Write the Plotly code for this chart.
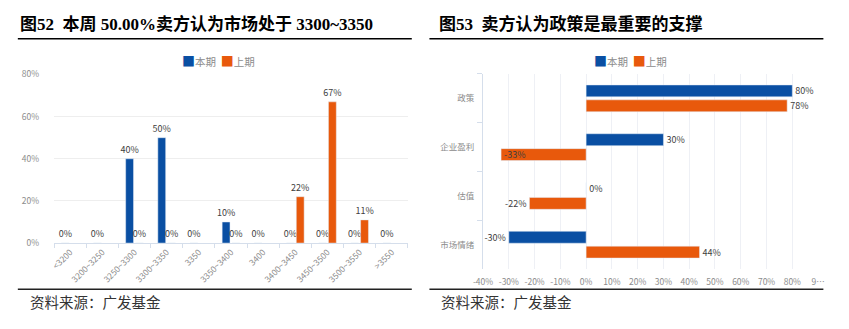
import plotly.graph_objects as go

# ---- left chart data ----
ranges = ["<3200", "3200~3250", "3250~3300", "3300~3350", "3350", "3350~3400",
          "3400", "3400~3450", "3450~3500", "3500~3550", ">3550"]
cur_range = [0, 0, 40, 50, 0, 10, 0, 0, 0, 0, 0]
prev_range = [None, None, 0, 0, None, 0, None, 22, 67, 11, None]

# ---- right chart data ----
factors = ["政策", "企业盈利", "估值", "市场情绪"]
cur_factor = [80, 30, 0, -30]
prev_factor = [78, -33, -22, 44]

x_ticks = [-40, -30, -20, -10, 0, 10, 20, 30, 40, 50, 60, 70, 80, 90]
x_ticktext = ["-40%", "-30%", "-20%", "-10%", "0%", "10%", "20%", "30%", "40%",
              "50%", "60%", "70%", "80%", "9…"]

series_names = ["本期", "上期"]

BLUE = "#0a4fa3"
ORANGE = "#e8590c"
LBL = dict(family="Noto Sans CJK SC, Liberation Sans", size=9, color="#404040")
TICK = dict(family="Noto Sans CJK SC, Liberation Sans", size=8.5, color="#8c8c8c")

W, H = 849, 329
def px(x):
    return x / W
def py(y):
    return 1 - y / H

def pct(v):
    return "" if v is None else f"{v}%"

fig = go.Figure()

fig.add_trace(go.Bar(x=ranges, y=cur_range, name=series_names[0], marker_color=BLUE,
                     text=[pct(v) for v in cur_range], textposition="outside",
                     textfont=LBL, cliponaxis=False, xaxis="x", yaxis="y"))
fig.add_trace(go.Bar(x=ranges, y=prev_range, name=series_names[1], marker_color=ORANGE,
                     text=[pct(v) for v in prev_range], textposition="outside",
                     textfont=LBL, cliponaxis=False, xaxis="x", yaxis="y"))

fig.add_trace(go.Bar(y=factors, x=cur_factor, name=series_names[0], orientation="h",
                     marker_color=BLUE, text=[pct(v) for v in cur_factor],
                     textposition="outside", textfont=LBL, cliponaxis=False,
                     xaxis="x2", yaxis="y2"))
fig.add_trace(go.Bar(y=factors, x=prev_factor, name=series_names[1], orientation="h",
                     marker_color=ORANGE, text=[pct(v) for v in prev_factor],
                     textposition=["outside", "inside", "outside", "outside"],
                     insidetextanchor="end",
                     insidetextfont=LBL, outsidetextfont=LBL, cliponaxis=False,
                     xaxis="x2", yaxis="y2"))

AXLINE = "#d5deeb"
fig.update_layout(
    width=W, height=H, margin=dict(l=0, r=0, t=0, b=0),
    paper_bgcolor="white", plot_bgcolor="white",
    barmode="group", bargap=0.39, bargroupgap=0.2,
    showlegend=False,
    uniformtext=dict(mode="show", minsize=9),
    xaxis=dict(domain=[px(45), px(406)], type="category", categoryorder="array",
               categoryarray=ranges, tickangle=-45, tickfont=TICK,
               showline=True, linecolor=AXLINE, linewidth=1,
               ticks="outside", tickson="boundaries", ticklen=4, tickcolor=AXLINE,
               showgrid=False, anchor="y", fixedrange=True),
    yaxis=dict(domain=[py(245), py(70)], range=[0, 80], tickvals=[0, 20, 40, 60, 80],
               ticktext=["0%", "20%", "40%", "60%", "80%"], tickfont=TICK,
               showgrid=True, gridcolor="#eeeeee", gridwidth=1, zeroline=False,
               showline=False, anchor="x", ticklabelstandoff=14),
    xaxis2=dict(domain=[px(482.7), px(824.6)], range=[-40, 90], tickvals=x_ticks,
                ticktext=x_ticktext, tickfont=TICK, showgrid=True,
                gridcolor="#eef0f5", zeroline=False, showline=False, anchor="y2",
                ticklabelstandoff=6),
    yaxis2=dict(domain=[py(272), py(69.5)], type="category", categoryorder="array",
                categoryarray=factors, autorange="reversed", tickfont=TICK,
                showline=True, linecolor=AXLINE, ticks="outside",
                tickson="boundaries", ticklen=5, tickcolor=AXLINE,
                showgrid=False, anchor="x2", ticklabelstandoff=6),
)

# legends (colour key) as text
LEGFONT = dict(family="Noto Sans CJK SC", size=10.5, color="#8c8c8c")
legend_text = (f"<span style='color:{BLUE};font-size:13px'>■</span>{series_names[0]}"
               f"  <span style='color:{ORANGE};font-size:13px'>■</span>{series_names[1]}")
for xc in (213, 633):
    fig.add_annotation(x=px(xc), y=py(56), xref="paper", yref="paper", xanchor="center",
                       yanchor="middle", showarrow=False, font=LEGFONT, text=legend_text)

TITLE = dict(family="Liberation Serif, Noto Sans CJK SC", size=17, color="#000000")
fig.add_annotation(x=px(8), y=py(18), xref="paper", yref="paper", xanchor="left",
                   yanchor="middle", showarrow=False, font=TITLE,
                   text="<b>图52  本周 50.00%卖方认为市场处于 3300~3350</b>")
fig.add_annotation(x=px(436), y=py(18), xref="paper", yref="paper", xanchor="left",
                   yanchor="middle", showarrow=False, font=TITLE,
                   text="<b>图53  卖方认为政策是最重要的支撑</b>")

SRC = dict(family="Noto Sans CJK SC", size=14.5, color="#333333")
for x0 in (18, 438):
    fig.add_annotation(x=px(x0), y=py(306), xref="paper", yref="paper", xanchor="left",
                       yanchor="middle", showarrow=False, font=SRC,
                       text="资料来源：广发基金")

for (a, b) in ((8, 410), (428, 830)):
    fig.add_shape(type="line", xref="paper", yref="paper", x0=px(a), x1=px(b),
                  y0=py(33), y1=py(33), line=dict(color="#000000", width=1.5))
    fig.add_shape(type="line", xref="paper", yref="paper", x0=px(a), x1=px(b),
                  y0=py(293), y1=py(293), line=dict(color="#222222", width=1.5))

fig.write_html("out.html")
